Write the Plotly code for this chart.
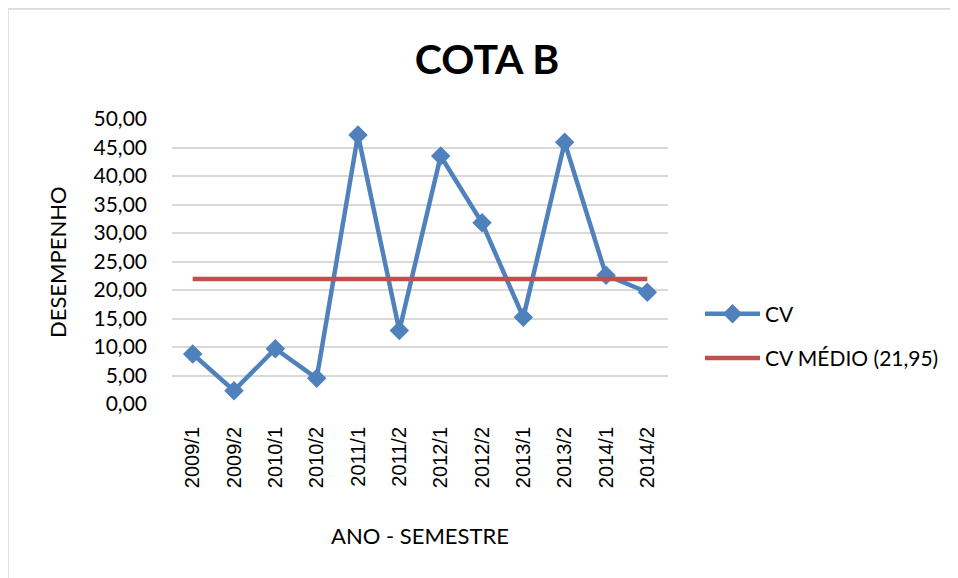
import plotly.graph_objects as go

categories = ["2009/1", "2009/2", "2010/1", "2010/2", "2011/1", "2011/2",
              "2012/1", "2012/2", "2013/1", "2013/2", "2014/1", "2014/2"]
cv = [8.77, 2.34, 9.70, 4.50, 47.20, 12.90, 43.50, 31.80, 15.20, 45.90, 22.60, 19.60]
cv_medio = [21.95] * len(categories)
y_ticks = [0, 5, 10, 15, 20, 25, 30, 35, 40, 45, 50]

# page body has an 8px margin; work in window pixel coords and shift
OFF = 8
W, H = 958 - OFF, 578 - OFF
L, R, T, B = 172 - OFF, 668 - OFF, 119 - OFF, 404 - OFF

fig = go.Figure()
fig.add_trace(go.Scatter(
    x=categories, y=cv, name="CV", mode="lines+markers",
    line=dict(color="#4F81BD", width=4.5),
    marker=dict(symbol="diamond", size=15, color="#4F81BD"),
    legendgroup="a",
))
fig.add_trace(go.Scatter(
    x=categories, y=cv_medio, name="CV MÉDIO (21,95)", mode="lines",
    line=dict(color="#C0504D", width=4.5),
    legendgroup="b",
))

pw, ph = R - L, B - T
def px(x):  # window pixel -> paper
    return (x - OFF - L) / pw
def py(y):
    return (B - (y - OFF)) / ph

fig.update_layout(
    width=W, height=H,
    margin=dict(l=L, r=W - R, t=T, b=H - B, autoexpand=False),
    paper_bgcolor="white", plot_bgcolor="white",
    separators=",.",
    font=dict(family="Lato, sans-serif", size=20, color="#000000"),
    title=dict(text="<b>COTA B</b>", x=(487 - OFF) / W, xanchor="center", xref="container",
               y=1 - (60 - OFF) / H, yanchor="middle", yref="container",
               font=dict(family="Lato, sans-serif", size=41, color="#000000")),
    xaxis=dict(
        type="category", range=[-0.5, 11.5], tickangle=-90,
        showgrid=False, showline=False, ticks="", automargin=False,
        ticklabelstandoff=18,
        tickfont=dict(family="Liberation Sans", size=20),
        title=dict(text=""),
    ),
    yaxis=dict(
        range=[0, 50], tickvals=y_ticks, tickformat=".2f",
        showgrid=True, gridcolor="#D9D9D9", gridwidth=1.5,
        zeroline=False, showline=False, ticks="", automargin=False,
        ticklabelstandoff=24,
        tickfont=dict(family="Lato, sans-serif", size=21),
        title=dict(text=""),
    ),
    annotations=[
        dict(text="ANO - SEMESTRE", xref="paper", yref="paper",
             x=px(420), y=py(535), xanchor="center", yanchor="middle",
             showarrow=False, font=dict(family="Lato, sans-serif", size=22)),
        dict(text="DESEMPENHO", xref="paper", yref="paper",
             x=px(57), y=py(262), xanchor="center", yanchor="middle",
             textangle=-90, showarrow=False,
             font=dict(family="Lato, sans-serif", size=22)),
    ],
    legend=dict(
        x=px(700), xanchor="left", y=py(336), yanchor="middle",
        traceorder="grouped", tracegroupgap=14, itemwidth=55,
        font=dict(family="Lato, sans-serif", size=21),
        bgcolor="rgba(0,0,0,0)",
    ),
    shapes=[dict(type="rect", xref="paper", yref="paper",
                 x0=px(7.5), x1=px(990), y0=py(610), y1=py(8.5),
                 line=dict(color="#D9D9D9", width=2.5), layer="below")],
)

fig.write_html("out.html")
